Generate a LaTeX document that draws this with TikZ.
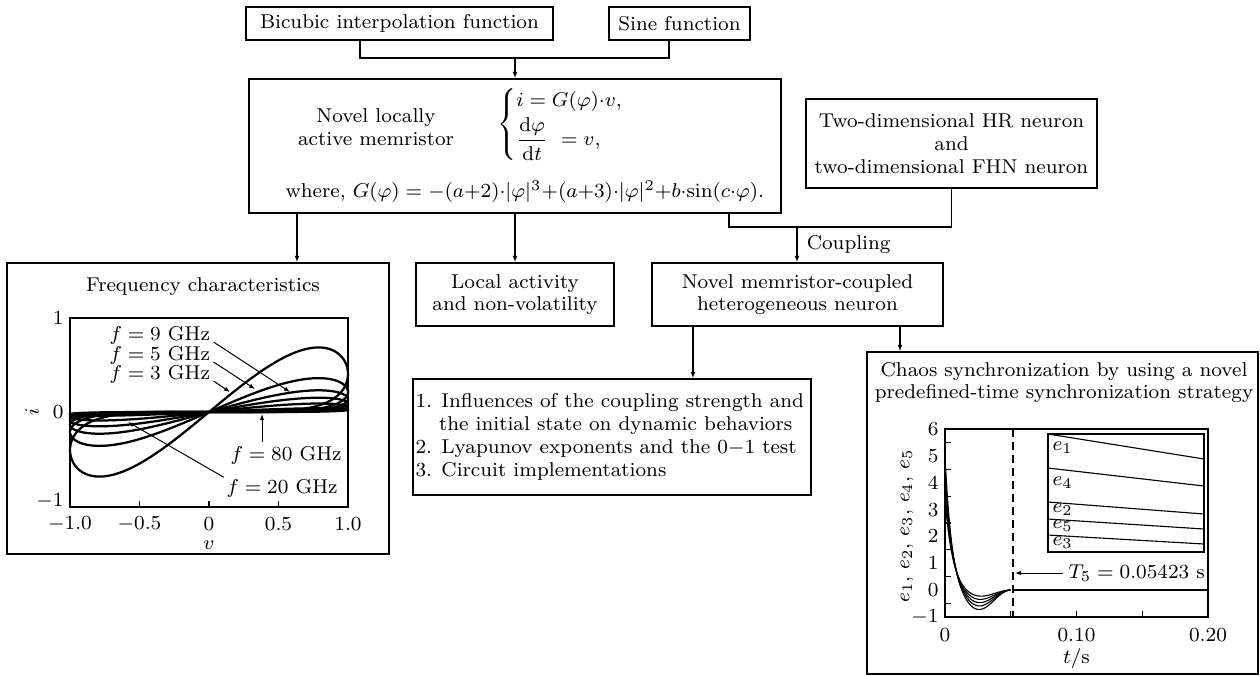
\documentclass[tikz,border=0pt]{standalone}
\usepackage{amsmath}
\usetikzlibrary{arrows.meta,calc}
\begin{document}
\begin{tikzpicture}[x=0.4pt,y=-0.4pt,
  font=\fontsize{8}{9.1}\selectfont,
  box/.style={draw,line width=0.6pt,inner sep=0pt,align=center},
  wh/.style 2 args={minimum width={#1*0.4pt},minimum height={#2*0.4pt}},
  arr/.style={line width=0.6pt,-{Latex[length=2.6pt,width=2pt]}},
  conn/.style={line width=0.6pt},
  txt/.style={inner sep=0pt},
  axis/.style={line width=0.5pt},
  loop/.style={line width=0.9pt},
  err/.style={line width=0.45pt},
  thinarr/.style={line width=0.4pt,-{Latex[length=2.4pt,width=1.8pt]}},
]
\useasboundingbox (0,0) rectangle (1260,675);

% ---------- boxes ----------
\node[box,wh={307}{33}] (bic) at (399.5,23.5) {Bicubic interpolation function};
\node[box,wh={141}{33}] (sine) at (679.5,23.5) {Sine function};
\node[box,wh={532}{134}] (main) at (515,146) {};
\node[box,wh={291}{89}] (hr) at (951.5,143.5) {Two-dimensional HR neuron\\and\\two-dimensional FHN neuron};
\node[box,wh={382}{291}] (freq) at (198,408.5) {};
\node[box,wh={198}{63}] (local) at (515,294.5) {Local activity\\and non-volatility};
\node[box,wh={291}{63}] (coup) at (797.5,294.5) {Novel memristor-coupled\\heterogeneous neuron};
\node[box,wh={398}{116}] (list) at (612,437) {};
\node[box,wh={391}{322}] (chaos) at (1062.5,513) {};

% ---------- main box content ----------
\node[txt,align=center] (mtxt) at (376,127) {Novel locally\\active memristor};
\node[txt,anchor=west] (meq) at (497,124) {$\begin{cases} i=G(\varphi){\cdot}v,\\[1pt] \dfrac{\mathrm{d}\varphi}{\mathrm{d}t}\ =v,\end{cases}$};
\node[txt,anchor=west] (mwhere) at (285,192) {where, $G(\varphi)=-(a{+}2){\cdot}|\varphi|^3{+}(a{+}3){\cdot}|\varphi|^2{+}b{\cdot}\mathrm{sin}(c{\cdot}\varphi)$.};

% ---------- list content ----------
\node[txt,anchor=west,align=left] (ltxt) at (415,437) {1. Influences of the coupling strength and\\\hphantom{1.\ }the initial state on dynamic behaviors\\2. Lyapunov exponents and the $0{-}1$ test\\3. Circuit implementations};

% ---------- connectors ----------
\coordinate (j1) at (515,58);
\draw[conn] ([xshift=-15.8pt]bic.south) |- (j1) -| ([xshift=-4.2pt]sine.south);
\draw[arr] (j1) -- (main.north);
\coordinate (fx) at (297,0);
\draw[arr] (main.south -| fx) -- (freq.north -| fx);
\draw[arr] (main.south) -- (local.north);
\coordinate (mx) at (729,0);
\coordinate (cj) at (797,227);
\draw[conn] (main.south -| mx) |- (cj) -| (hr.south);
\draw[arr] (cj) -- (coup.north -| cj) node[midway,right,inner sep=0pt,xshift=3.6pt] (cpl) {Coupling};
\coordinate (lx) at (693,0);
\draw[arr] (coup.south -| lx) -- (list.north -| lx);
\coordinate (cx) at (900,0);
\draw[arr] (coup.south -| cx) -- (chaos.north -| cx);

% ---------- frequency plot ----------
\node[txt] (ftitle) at (203,287) {Frequency characteristics};
\draw[axis] (70,318) rectangle (348,507);
\foreach \v in {-0.5,0,0.5} \draw[axis] ({209+139*\v},507) -- ++(0,-6);
\node[txt,anchor=east] (fy1) at (64,318) {$1$};
\node[txt,anchor=east] (fy0) at (64,412) {$0$};
\node[txt,anchor=east] (fym) at (64,501) {$-1$};
\node[txt] (fxa) at (70,524) {$-1.0$};
\node[txt] (fxb) at (139.5,524) {$-0.5$};
\node[txt] (fxc) at (209,524) {$0$};
\node[txt] (fxd) at (278.5,524) {$0.5$};
\node[txt] (fxe) at (348,524) {$1.0$};
\node[txt] (fxl) at (209,545) {$v$};
\node[txt,rotate=90] (fyl) at (32,412) {$i$};
\foreach \A in {1.22,0.64,0.41,0.27,0.16,0.07}
  \draw[loop] plot[domain=0:360,samples=145,smooth,variable=\q]
    ({209+139*sin(\q)},{412-94.5*\A*sin(\q)*((1.0001-cos(\q))/2)^1.6});
\node[txt,anchor=west] (f9) at (109,335) {$f=9$ GHz};
\node[txt,anchor=west] (f5) at (109,355) {$f=5$ GHz};
\node[txt,anchor=west] (f3) at (109,374) {$f=3$ GHz};
\node[txt,anchor=west] (f80) at (230,455) {$f=80$ GHz};
\node[txt,anchor=west] (f20) at (226,488) {$f=20$ GHz};
\coordinate (f9t) at (290,392);
\coordinate (f5t) at (255,389);
\coordinate (f3t) at (230,392);
\coordinate (f80t) at (262,414);
\coordinate (f20t) at (128,422);
\draw[thinarr,shorten <=1.5pt] ([yshift=-2pt]f9.east) -- (f9t);
\draw[thinarr,shorten <=1.5pt] ([yshift=-2pt]f5.east) -- (f5t);
\draw[thinarr,shorten <=1.5pt] ([yshift=-2pt]f3.east) -- (f3t);
\draw[thinarr,shorten <=1.5pt] (f80.north -| f80t) -- (f80t);
\draw[thinarr,shorten <=1pt] (f20.north west) -- (f20t);

% ---------- chaos synchronization plot ----------
\node[txt,align=center] (ctitle) at (1064,382.5) {Chaos synchronization by using a novel\\predefined-time synchronization strategy};
\draw[axis] (945,429) rectangle (1208,617);
\foreach \k in {-1,...,6} \node[txt,anchor=east] (cy\k) at (939,{590.14-26.857*\k}) {$\k$};
\foreach \k in {-0.5,0.5,1.5,2.5,3.5,4.5,5.5} \draw[axis] (945,{590.14-26.857*\k}) -- ++(6,0);
\foreach \t in {0.05,0.10,0.15} \draw[axis] ({945+1315*\t},617) -- ++(0,-6);
\node[txt] (cxa) at (945,635) {$0$};
\node[txt] (cxb) at (1076.5,635) {$0.10$};
\node[txt] (cxc) at (1208,635) {$0.20$};
\node[txt] (cxl) at (1076.5,658) {$t/\mathrm{s}$};
\node[txt,rotate=90] (cyl) at (907,526) {$e_1$, $e_2$, $e_3$, $e_4$, $e_5$};
\draw[line width=0.6pt,dash pattern=on 3.2pt off 2pt] (1013,429) -- (1013,617);
\draw[line width=0.9pt] (1012,590.14) -- (1208,590.14);
\foreach \A/\D/\T in {5/0.75/0.0050,4.6/0.62/0.0052,4.2/0.5/0.0054,3.8/0.38/0.0056,3.4/0.26/0.0058}
  \draw[err] plot[domain=0:0.05,samples=101,smooth,variable=\t]
    ({945+1315*\t},{590.14-26.857*(\A*exp(-\t/\T)-\D*(sin(3600*\t))^2)});
\draw[axis] (1048,434) rectangle (1204,552);
\draw[err] (1048,434) -- (1204,459);
\draw[err] (1048,468) -- (1204,486);
\draw[err] (1048,502) -- (1204,514);
\draw[err] (1048,519) -- (1204,529);
\draw[err] (1048,535) -- (1204,544);
\node[txt,anchor=west] (le1) at (1052,448) {$e_1$};
\node[txt,anchor=west] (le4) at (1052,483) {$e_4$};
\node[txt,anchor=west] (le2) at (1052,510) {$e_2$};
\node[txt,anchor=west] (le5) at (1052,526) {$e_5$};
\node[txt,anchor=west] (le3) at (1052,543) {$e_3$};
\node[txt,anchor=west] (t5) at (1068,573) {$T_5=0.05423$ s};
\coordinate (t5t) at (1015,573);
\draw[thinarr,shorten <=2pt] (t5.west) -- (t5t);
\end{tikzpicture}
\end{document}
